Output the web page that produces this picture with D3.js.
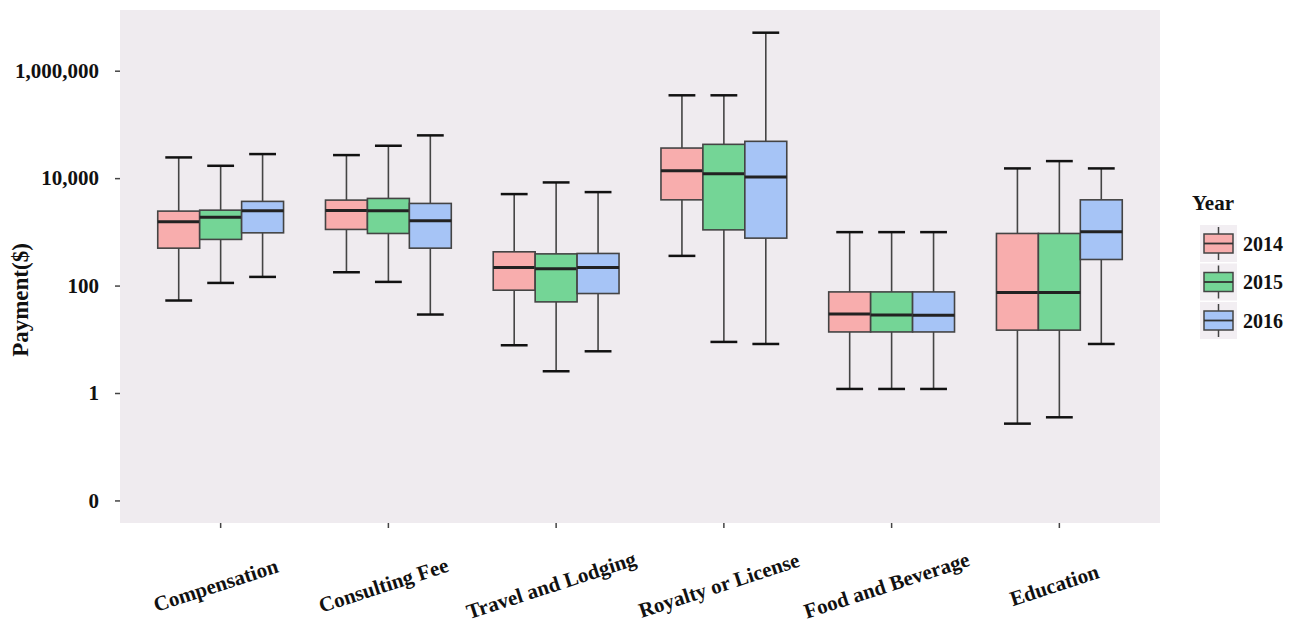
<!DOCTYPE html>
<html>
<head>
<meta charset="utf-8">
<script src="https://cdn.jsdelivr.net/npm/d3@7"></script>
<style>
  body { margin: 0; background: #fff; }
  text { font-family: "Liberation Serif", "Times New Roman", serif; font-weight: bold; fill: #111; }
</style>
</head>
<body>
<div id="chart"></div>
<script>
const W = 1296, H = 625;
const panel = {left: 120, right: 1160, top: 10, bottom: 523};

const categories = ["Compensation", "Consulting Fee", "Travel and Lodging", "Royalty or License", "Food and Beverage", "Education"];
const years = ["2014", "2015", "2016"];
const colors = ["#F8ADAD", "#74D596", "#A6C4F6"];

// each row: [lower whisker, Q1, median, Q3, upper whisker] in $, per category
const stats2014 = [
  [52.7, 497, 1538, 2432, 24300],
  [177, 1109, 2506, 3899, 26850],
  [7.74, 82, 217, 425, 5047],
  [357, 3945, 13710, 36310, 348300],
  [1.19, 13.7, 29.6, 76.2, 988],
  [0.269, 14.8, 74.3, 933, 15170]
];
const stats2015 = [
  [112, 723, 1879, 2535, 16980],
  [117, 933, 2466, 4188, 40090],
  [2.54, 49.7, 205, 389, 8318],
  [8.93, 1089, 12050, 42560, 348300],
  [1.19, 13.7, 28.4, 76.2, 988],
  [0.353, 14.8, 74.3, 933, 20750]
];
const stats2016 = [
  [145, 959, 2466, 3690, 28050],
  [28.9, 497, 1603, 3381, 62520],
  [5.98, 71.1, 217, 396, 5495],
  [8.18, 764, 10450, 48420, 5100000],
  [1.19, 13.7, 28.1, 76.2, 988],
  [8.18, 306, 1000, 3945, 15170]
];
const yTicks = [0.01, 1, 100, 10000, 1000000];

const series = [stats2014, stats2015, stats2016];
const boxes = [];
categories.forEach((c, i) => {
  years.forEach((yr, j) => {
    const s = series[j][i];
    boxes.push({cat: c, year: yr, lo: s[0], q1: s[1], med: s[2], q3: s[3], hi: s[4]});
  });
});

const svg = d3.select("#chart").append("svg")
  .attr("width", W).attr("height", H);

const x = d3.scaleBand()
  .domain(categories)
  .range([panel.left, panel.right])
  .paddingInner(0).paddingOuter(0.1);

const xInner = d3.scaleBand()
  .domain(years)
  .range([-0.375 * x.step(), 0.375 * x.step()]);

const y = d3.scaleLog()
  .domain([Math.pow(10, -2.42), Math.pow(10, 7.13)])
  .range([panel.bottom, panel.top]);

const color = d3.scaleOrdinal().domain(years).range(colors);

// panel background
svg.append("rect")
  .attr("x", panel.left).attr("y", panel.top)
  .attr("width", panel.right - panel.left)
  .attr("height", panel.bottom - panel.top)
  .attr("fill", "#EFEBEF");

// axes
const yAxis = d3.axisLeft(y)
  .tickValues(yTicks)
  .tickSize(5)
  .tickPadding(16)
  .tickFormat(d => d < 1 ? "0" : d3.format(",")(d));

const yG = svg.append("g")
  .attr("transform", "translate(" + panel.left + ",0)")
  .call(yAxis);
yG.select(".domain").remove();
yG.selectAll(".tick line").attr("stroke", "#444").attr("stroke-width", 1.5);
yG.selectAll(".tick text").style("font-size", "21px").style("font-family", "Liberation Serif").style("font-weight", "bold").attr("fill", "#111");

const xAxis = d3.axisBottom(x).tickSize(5).tickFormat("");
const xG = svg.append("g")
  .attr("transform", "translate(0," + panel.bottom + ")")
  .call(xAxis);
xG.select(".domain").remove();
xG.selectAll(".tick line").attr("stroke", "#444").attr("stroke-width", 1.5);

svg.append("g").selectAll("text")
  .data(categories)
  .enter().append("text")
  .attr("transform", d => "translate(" + (x(d) + x.bandwidth() / 2 - 5) + ",585) rotate(-18)")
  .attr("text-anchor", "middle")
  .attr("dy", "0.35em")
  .style("font-size", "21px")
  .text(d => d);

svg.append("text")
  .attr("transform", "translate(28,300) rotate(-90)")
  .attr("text-anchor", "middle")
  .style("font-size", "23px")
  .text("Payment($)");

// boxes
const bw = xInner.bandwidth();
const capW = bw * 0.64;
const g = svg.append("g");
const cx = d => x(d.cat) + x.bandwidth() / 2 + xInner(d.year) + bw / 2;

const bx = g.selectAll("g.box")
  .data(boxes)
  .enter().append("g").attr("class", "box");

bx.append("line")
  .attr("x1", cx).attr("x2", cx)
  .attr("y1", d => y(d.hi)).attr("y2", d => y(d.lo))
  .attr("stroke", "#444").attr("stroke-width", 1.6);

bx.append("line")
  .attr("x1", d => cx(d) - capW / 2).attr("x2", d => cx(d) + capW / 2)
  .attr("y1", d => y(d.hi)).attr("y2", d => y(d.hi))
  .attr("stroke", "#111").attr("stroke-width", 2.5);

bx.append("line")
  .attr("x1", d => cx(d) - capW / 2).attr("x2", d => cx(d) + capW / 2)
  .attr("y1", d => y(d.lo)).attr("y2", d => y(d.lo))
  .attr("stroke", "#111").attr("stroke-width", 2.5);

bx.append("rect")
  .attr("x", d => cx(d) - bw / 2)
  .attr("width", bw)
  .attr("y", d => y(d.q3))
  .attr("height", d => y(d.q1) - y(d.q3))
  .attr("fill", d => color(d.year))
  .attr("stroke", "#444").attr("stroke-width", 1.6);

bx.append("line")
  .attr("x1", d => cx(d) - bw / 2).attr("x2", d => cx(d) + bw / 2)
  .attr("y1", d => y(d.med)).attr("y2", d => y(d.med))
  .attr("stroke", "#222").attr("stroke-width", 3);

// legend
const lg = svg.append("g").attr("transform", "translate(1192,0)");
lg.append("text").attr("x", 0).attr("y", 210).style("font-size", "21px").text("Year");

const keys = lg.selectAll("g.key")
  .data(years)
  .enter().append("g").attr("class", "key")
  .attr("transform", (d, i) => "translate(8," + (225 + i * 38.5) + ")");

keys.append("rect").attr("width", 37).attr("height", 37).attr("fill", "#F2EEF2");
keys.append("line").attr("x1", 18.5).attr("x2", 18.5).attr("y1", 2).attr("y2", 35)
  .attr("stroke", "#444").attr("stroke-width", 1.5);
keys.append("rect").attr("x", 4).attr("y", 9).attr("width", 29).attr("height", 19)
  .attr("fill", d => color(d)).attr("stroke", "#444").attr("stroke-width", 1.5);
keys.append("line").attr("x1", 4).attr("x2", 33).attr("y1", 18.5).attr("y2", 18.5)
  .attr("stroke", "#333").attr("stroke-width", 1.8);
keys.append("text").attr("x", 43).attr("y", 25.5).style("font-size", "20px").text(d => d);
</script>
</body>
</html>
